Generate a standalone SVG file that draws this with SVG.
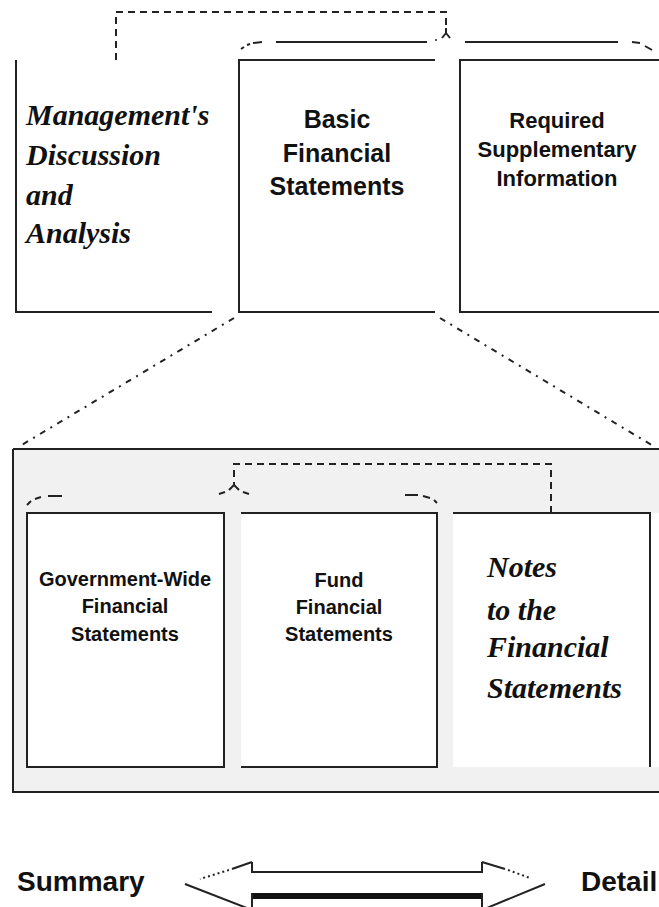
<svg xmlns="http://www.w3.org/2000/svg" width="659" height="907" viewBox="0 0 659 907">
<style>
.ln{stroke:#222;stroke-width:2;fill:none}
.dsh{stroke:#222;stroke-width:2;fill:none;stroke-dasharray:7 5}
.dg{stroke:#222;stroke-width:2;fill:none;stroke-dasharray:6 6 2 6}
.sans{font-family:"Liberation Sans",Arial,sans-serif;font-weight:bold;fill:#111;text-anchor:middle}
.scr{font-family:"Liberation Serif","Times New Roman",serif;font-style:italic;font-weight:bold;fill:#111}
</style>
<rect width="659" height="907" fill="#fff"/>

<g id="panel">
<rect x="13" y="449" width="646" height="343" fill="#f1f1f1"/>
<path class="ln" d="M13,449 H659 M13,449 V792 H659"/>
</g>

<g id="mdna">
<path class="ln" d="M16,60 V312 H212"/>
<text class="scr" font-size="30" x="26" y="125">Management's</text>
<text class="scr" font-size="30" x="26" y="165">Discussion</text>
<text class="scr" font-size="30" x="26" y="205">and</text>
<text class="scr" font-size="30" x="26" y="243">Analysis</text>
</g>

<g id="basic">
<path class="ln" d="M435,60 H239 V312 H435"/>
<text class="sans" font-size="25" x="337" y="128">Basic</text>
<text class="sans" font-size="25" x="337" y="162">Financial</text>
<text class="sans" font-size="25" x="337" y="195">Statements</text>
</g>

<g id="rsi">
<path class="ln" d="M659,60 H460 V312 H659"/>
<text class="sans" font-size="22" x="557" y="128">Required</text>
<text class="sans" font-size="22" x="557" y="157">Supplementary</text>
<text class="sans" font-size="22" x="557" y="186">Information</text>
</g>

<g id="govwide">
<rect x="27" y="513" width="197" height="254" fill="#fff" stroke="#222" stroke-width="2"/>
<text class="sans" font-size="20" x="125" y="586">Government-Wide</text>
<text class="sans" font-size="20" x="125" y="613">Financial</text>
<text class="sans" font-size="20" x="125" y="641">Statements</text>
</g>

<g id="fund">
<rect x="241" y="513" width="196" height="254" fill="#fff"/>
<path class="ln" d="M241,513 H437 V767 H241"/>
<text class="sans" font-size="20" x="339" y="587">Fund</text>
<text class="sans" font-size="20" x="339" y="614">Financial</text>
<text class="sans" font-size="20" x="339" y="641">Statements</text>
</g>

<g id="notes">
<rect x="453" y="513" width="206" height="254" fill="#fff"/>
<path class="ln" d="M453,513 H650 V767"/>
<text class="scr" font-size="30" x="487" y="577">Notes</text>
<text class="scr" font-size="30" x="487" y="620">to the</text>
<text class="scr" font-size="30" x="487" y="657">Financial</text>
<text class="scr" font-size="30" x="487" y="698">Statements</text>
</g>

<g id="connectors">
<path class="dsh" d="M116,60 V12 H446 V28"/>
<path class="ln" d="M446,28 V33 M446,33 L442,38 M446,33 L450,38"/>
<circle cx="436" cy="40" r="1" fill="#222"/>
<path class="ln" d="M241,49 L244,47 M247,45 L250,44 M253,43 L262,42 M276,42 H427 M465,42 H618 M632,42 L640,43 M645,46 L652,50"/>
<path class="dg" d="M234,318 L20,446"/>
<path class="dg" d="M440,318 L655,447"/>
<path class="dsh" d="M551,513 V464 H234 V485"/>
<path class="ln" d="M234,485 L229,490 M234,485 L239,490 M219,494 L225,492 M243,492 L249,494"/>
<path class="ln" d="M27,505 L31,501 M35,499 L41,497 M48,496 H62 M405,495 H418 M423,496 L430,498 M434,500 L437,503"/>
</g>

<g id="scale">
<text class="sans" font-size="28" x="17" y="891" style="text-anchor:start">Summary</text>
<text class="sans" font-size="28" x="581" y="891" style="text-anchor:start">Detail</text>
<path class="ln" d="M252,862 V872 H482 V862" stroke-width="1.5"/>
<path class="ln" d="M252,862 L232,869" stroke-width="1.5"/>
<path class="ln" d="M229,870 L200,879" stroke-width="1.5" stroke-dasharray="2 3"/>
<path class="ln" d="M482,862 L505,869" stroke-width="1.5"/>
<path class="ln" d="M508,870 L530,878" stroke-width="1.5" stroke-dasharray="2 3"/>
<path class="ln" d="M185,884 L252,910 M545,884 L482,910" stroke-width="3"/>
<path d="M252,896 H482" stroke="#111" stroke-width="6"/>
<path class="ln" d="M252,893 V907 M482,893 V907" stroke-width="2"/>
</g>
</svg>
